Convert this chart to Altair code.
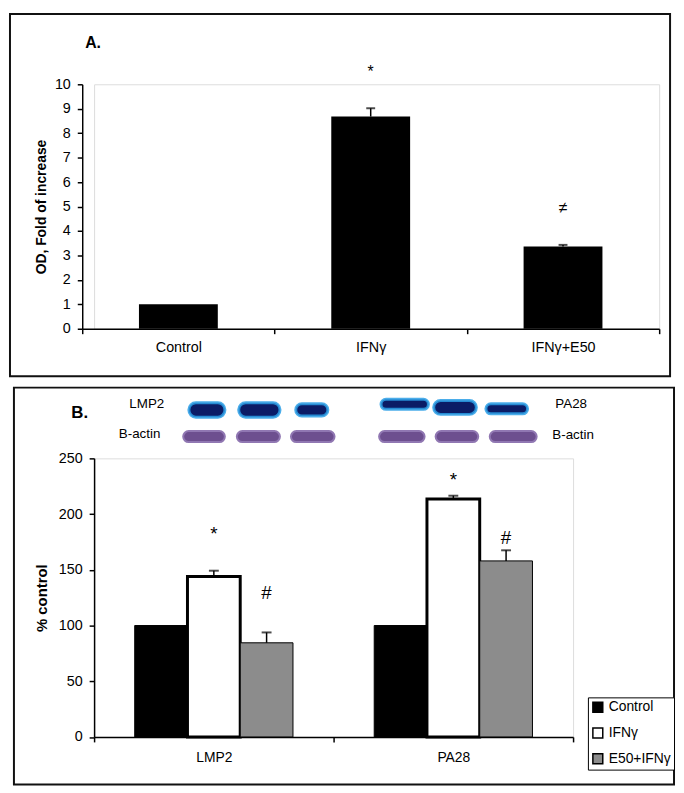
import altair as alt
import pandas as pd

FONT = "Liberation Sans"

# ---------------- Panel A data ----------------
a_categories = ["Control", "IFNγ", "IFNγ+E50"]
a_values = [1.0, 8.68, 3.36]
a_errors = [0.0, 0.34, 0.07]
a_marks = ["", "*", "≠"]
a_mark_y = [None, 10.5, 4.95]

# ---------------- Panel B data ----------------
b_groups = ["LMP2", "PA28"]
b_series = ["Control", "IFNγ", "E50+IFNγ"]
b_lmp2 = [100, 143.9, 84.5]
b_pa28 = [100, 213.5, 158]
b_lmp2_err = [0, 5.3, 9.3]
b_pa28_err = [0, 3.0, 9.5]
b_marks = ["", "*", "#"]
b_lmp2_mark_y = [None, 186.5, 134]
b_pa28_mark_y = [None, 235, 183]
b_colors = ["#000000", "#ffffff", "#8c8c8c"]

# Western blot bands (lane extents as fraction of panel width, y in % control units)
target_x0 = [0.198, 0.302, 0.421, 0.599, 0.709, 0.818]
target_x1 = [0.273, 0.388, 0.488, 0.698, 0.798, 0.905]
target_y0 = [287, 287, 288, 294, 289.5, 290]
target_y1 = [300, 300, 299, 303, 302, 299]
actin_x0 = [0.186, 0.298, 0.411, 0.595, 0.713, 0.826]
actin_x1 = [0.273, 0.388, 0.502, 0.690, 0.802, 0.924]
actin_y0 = [264.6] * 6
actin_y1 = [274.5] * 6
blot_labels = ["LMP2", "B-actin", "PA28", "B-actin"]
blot_label_x = [0.11, 0.095, 0.996, 1.0]
blot_label_y = [299, 272, 299, 271]

one = pd.DataFrame({"f": [0]})


def frame(x0, x1, y0, y1):
    return alt.Chart(one).mark_rect(filled=False, stroke="#111111", strokeWidth=2).encode(
        x=alt.value(x0), x2=alt.value(x1), y=alt.value(y0), y2=alt.value(y1)
    )


def panel_label(text, x, y, size):
    return alt.Chart(one).mark_text(
        text=text, font=FONT, fontSize=size, fontWeight="bold", color="black",
        align="left", baseline="alphabetic").encode(x=alt.value(x), y=alt.value(y))


axis_common = dict(
    domainColor="black", tickColor="black", labelColor="black", titleColor="black",
    domainWidth=1.5, tickWidth=1.5, tickSize=5, grid=False,
    labelFont=FONT, titleFont=FONT,
)

# ---------------- Panel A ----------------
# Both panels share the same left origin in the vertical layout; panel A's axis
# sits 12px further left, so its scale range starts at -12 and its y axis is offset.
dfa = pd.DataFrame({
    "cat": a_categories, "val": a_values, "err": a_errors,
    "top": [v + e for v, e in zip(a_values, a_errors)],
    "mark": a_marks, "my": a_mark_y,
})
xa = alt.X("cat:N", sort=a_categories,
           scale=alt.Scale(domain=a_categories, paddingInner=0, paddingOuter=0, range=[-12, 571]),
           axis=alt.Axis(title=None, labelAngle=0, tickBand="extent", labelPadding=7,
                         labelFontSize=14.5, **axis_common))
ya_axis = alt.Axis(title="OD, Fold of increase", values=list(range(11)), labelPadding=7,
                   labelFontSize=14.5, titleFontSize=14, titleFontWeight="bold",
                   titlePadding=6, offset=12, **axis_common)
ya_scale = alt.Scale(domain=[0, 10], nice=False)

bars_a = alt.Chart(dfa).mark_bar(color="black", width=alt.RelativeBandSize(0.41)).encode(
    x=xa, y=alt.Y("val:Q", scale=ya_scale, axis=ya_axis))
err_a = alt.Chart(dfa).transform_filter("datum.err > 0").mark_rule(color="black", strokeWidth=1.5).encode(
    x=xa, y=alt.Y("val:Q", scale=ya_scale, axis=ya_axis), y2="top:Q")
cap_a = alt.Chart(dfa).transform_filter("datum.err > 0").mark_tick(
    orient="horizontal", size=9, thickness=2, color="black").encode(
    x=xa, y=alt.Y("top:Q", scale=ya_scale, axis=ya_axis))
txt_a = alt.Chart(dfa).transform_filter("datum.mark != ''").mark_text(
    fontSize=16, dy=0, baseline="middle", font=FONT, color="black").encode(
    x=xa, y=alt.Y("my:Q", scale=ya_scale, axis=ya_axis), text="mark:N")

panel_a = alt.layer(
    frame(-85, 582, -71, 295), panel_label("A.", -9, -37, 16),
    bars_a, err_a, cap_a, txt_a
).properties(width=571, height=247)

# ---------------- Panel B ----------------
rows = []
for g, vals, errs, mys in [("LMP2", b_lmp2, b_lmp2_err, b_lmp2_mark_y),
                           ("PA28", b_pa28, b_pa28_err, b_pa28_mark_y)]:
    for s, v, e, m, my in zip(b_series, vals, errs, b_marks, mys):
        rows.append({"group": g, "series": s, "val": v, "err": e, "top": v + e, "mark": m, "my": my})
dfb = pd.DataFrame(rows)

xb = alt.X("group:N", sort=b_groups,
           scale=alt.Scale(domain=b_groups, paddingInner=0, paddingOuter=0),
           axis=alt.Axis(title=None, labelAngle=0, tickBand="extent", labelPadding=9,
                         labelFontSize=14, **axis_common))
xob = alt.XOffset("series:N", sort=b_series,
                  scale=alt.Scale(domain=b_series, paddingInner=0, paddingOuter=0.77))
yb_axis = alt.Axis(title="% control", values=[0, 50, 100, 150, 200, 250], labelPadding=7,
                   labelFontSize=14.5, titleFontSize=15, titleFontWeight="bold",
                   titlePadding=9, **axis_common)
yb_scale = alt.Scale(domain=[0, 250], nice=False)

bars_b = alt.Chart(dfb).mark_bar(stroke="black").encode(
    x=xb, xOffset=xob,
    y=alt.Y("val:Q", scale=yb_scale, axis=yb_axis),
    fill=alt.Fill("series:N", sort=b_series, scale=alt.Scale(domain=b_series, range=b_colors),
                  legend=alt.Legend(title=None, orient="none", legendX=499, legendY=241.5,
                                    symbolType="square", symbolSize=100,
                                    symbolStrokeColor="black", symbolStrokeWidth=1.5,
                                    labelFont=FONT, labelFontSize=14, labelColor="black",
                                    strokeColor="black", fillColor="white", padding=3,
                                    rowPadding=10, labelOffset=4)),
    strokeWidth=alt.condition(alt.datum.series == "IFNγ", alt.value(3), alt.value(1)),
)
err_b = alt.Chart(dfb).transform_filter("datum.err > 0").mark_rule(color="black", strokeWidth=1.5).encode(
    x=xb, xOffset=xob, y=alt.Y("val:Q", scale=yb_scale, axis=yb_axis), y2="top:Q")
cap_b = alt.Chart(dfb).transform_filter("datum.err > 0").mark_tick(
    orient="horizontal", size=10, thickness=2, color="black").encode(
    x=xb, xOffset=xob, y=alt.Y("top:Q", scale=yb_scale, axis=yb_axis))
txt_b = alt.Chart(dfb).transform_filter("datum.mark != ''").mark_text(
    fontSize=19, dy=5, baseline="middle", font=FONT, color="black").encode(
    x=xb, xOffset=xob, y=alt.Y("my:Q", scale=yb_scale, axis=yb_axis), text="mark:N")

bars_layer = alt.layer(frame(-81, 586, -71.5, 329.5), panel_label("B.", -23, -40.5, 17),
                       bars_b, err_b, cap_b, txt_b)

dft = pd.DataFrame({"x0": target_x0, "x1": target_x1, "y0": target_y0, "y1": target_y1})
dfac = pd.DataFrame({"x0": actin_x0, "x1": actin_x1, "y0": actin_y0, "y1": actin_y1})
dfl = pd.DataFrame({"label": blot_labels, "lx": blot_label_x, "ly": blot_label_y})
bx_scale = alt.Scale(domain=[0, 1], nice=False, zero=False)

target_blots = alt.Chart(dft).mark_rect(cornerRadius=7, fill="#0b1c66", stroke="#2c9fe6",
                                        strokeWidth=3, strokeOpacity=0.85).encode(
    x=alt.X("x0:Q", scale=bx_scale, axis=None), x2="x1:Q",
    y=alt.Y("y0:Q", scale=yb_scale, axis=yb_axis), y2="y1:Q")
actin_blots = alt.Chart(dfac).mark_rect(cornerRadius=6, fill="#6d4f8f", stroke="#9077b2",
                                        strokeWidth=2).encode(
    x=alt.X("x0:Q", scale=bx_scale, axis=None), x2="x1:Q",
    y=alt.Y("y0:Q", scale=yb_scale, axis=yb_axis), y2="y1:Q")
blot_text = alt.Chart(dfl).mark_text(font=FONT, fontSize=13.5, color="black", baseline="middle").encode(
    x=alt.X("lx:Q", scale=bx_scale, axis=None),
    y=alt.Y("ly:Q", scale=yb_scale, axis=yb_axis), text="label:N")
blots_layer = alt.layer(target_blots, actin_blots, blot_text)

panel_b = alt.layer(bars_layer, blots_layer).resolve_scale(x="independent").properties(
    width=484, height=281.5)

chart = alt.concat(panel_a, panel_b, columns=1, spacing=8, align="none").resolve_scale(
    fill="independent").resolve_legend(fill="independent").properties(
    padding=0
).configure_view(stroke=None).configure(background="white")

chart.save("out.html", embed_options={"renderer": "svg", "actions": False})
